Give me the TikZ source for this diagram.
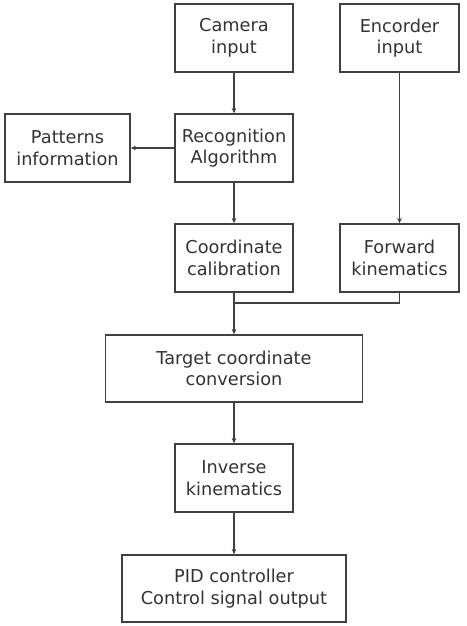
\documentclass[tikz,border=0pt]{standalone}
\usepackage{fontspec}
\setmainfont{DejaVu Sans}
\usetikzlibrary{arrows.meta}

\tikzset{every picture/.style={line width=0.75pt}}
\tikzset{
  blk/.style={draw=black!75, line width=1.1pt, align=center, inner sep=0pt,
    minimum width=88.5pt, minimum height=51pt,
    font=\fontsize{13.3}{16.3}\selectfont, text=black!80},
  flow/.style={draw=black!75, line width=1.1pt, -{Stealth[length=4pt,width=3.5pt]}},
}

\begin{document}
\begin{tikzpicture}[x=0.75pt,y=0.75pt,yscale=-1,xscale=1]
\useasboundingbox (0,0) rectangle (467,626);

% Boxes
\node[blk] (camera) at (234,38) {Camera\\input};
\node[blk, minimum width=89.25pt] (encoder) at (399.5,38) {Encorder\\input};
\node[blk, minimum width=93.75pt] (patterns) at (67.5,148) {Patterns\\information};
\node[blk] (recog) at (234,148) {Recognition\\Algorithm};
\node[blk] (calib) at (234,258) {Coordinate\\calibration};
\node[blk, minimum width=89.25pt] (fwdkin) at (399.5,258) {Forward\\kinematics};
\node[blk, minimum width=192.75pt, minimum height=50.25pt] (target) at (234,368.5) {Target coordinate\\conversion};
\node[blk] (invkin) at (234,478) {Inverse\\kinematics};
\node[blk, minimum width=168pt, minimum height=50.25pt] (pid) at (234,588.5) {PID controller\\Control signal output};

\coordinate (join) at (234,303);

% Straight Lines
\draw[flow] (camera) -- (recog);
\draw[flow] (recog) -- (patterns);
\draw[flow] (recog) -- (calib);
\draw[flow] (encoder) -- (fwdkin);
\draw[draw=black!75, line width=1.1pt] (fwdkin.south) |- (join);
\draw[flow] (calib) -- (target);
\draw[flow] (target) -- (invkin);
\draw[flow] (invkin) -- (pid);

\end{tikzpicture}
\end{document}
